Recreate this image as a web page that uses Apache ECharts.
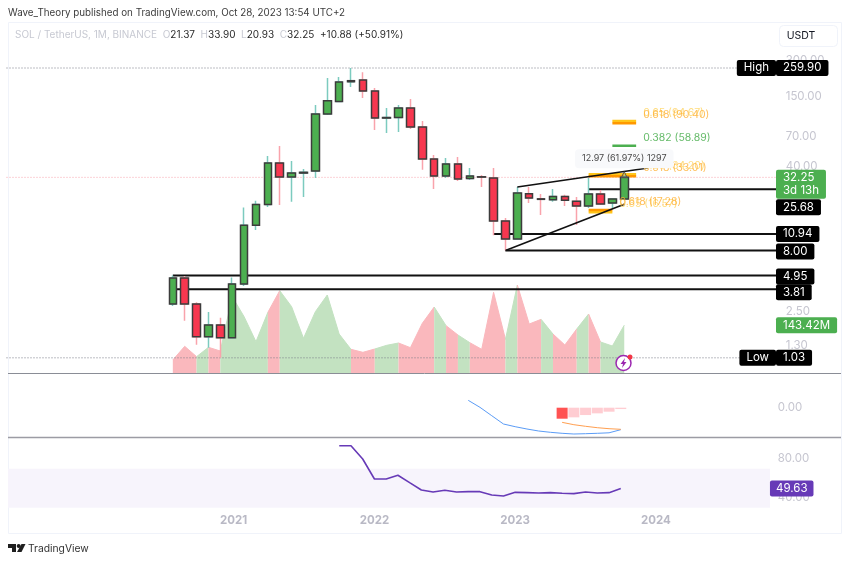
<!DOCTYPE html>
<html lang="en">

<head>
    <meta charset="UTF-8">
    <title>SOL / TetherUS</title>
    <style>
        html, body { margin: 0; padding: 0; background: #fff; }
        #chart { width: 850px; height: 563px; }
    </style>
</head>

<body>
    <div id="chart"></div>
    <script src="https://cdn.jsdelivr.net/npm/echarts@6/dist/echarts.min.js"></script>
    <script>
        // months on the time axis, Jun 2019 - Nov 2024
        const months = []
        for (let y = 2019, m = 6; months.length < 66; m++) {
            if (m > 12) { m = 1; y++ }
            months.push(y + '-' + String(m).padStart(2, '0'))
        }

        // monthly candles, Aug 2020 - Oct 2023
        const candleStart = '2020-08'
        const opens = [2.88, 4.73, 2.88, 1.54, 1.93, 1.51, 4.22, 12.94, 19.18, 42.4, 32.5, 35.0, 36.4, 108, 137, 200, 206.7, 167.6, 100, 101, 121, 84.3, 45.8, 33.1, 41.7, 31.6, 32.6, 31.9, 14.04, 9.96, 23.6, 21.4, 21.0, 22.4, 20.4, 18.7, 23.5, 19.8, 21.37]
        const closes = [4.73, 2.88, 1.54, 1.93, 1.51, 4.22, 12.94, 19.18, 42.4, 32.5, 35.1, 35.5, 108, 139.4, 199, 204, 167.6, 100.1, 101, 121, 84.3, 45.8, 33.1, 41.7, 31.3, 33.1, 32.4, 14.04, 9.96, 23.9, 21.8, 21.2, 22.4, 20.8, 18.7, 23.5, 19.4, 21.37, 32.25]
        const lows = [2.77, 2.09, 1.32, 1.25, 1.03, 1.5, 4.06, 11.83, 18.35, 19.06, 20.2, 22.2, 31.9, 106, 137, 181, 146.6, 79.6, 75.2, 76.7, 81.1, 37.2, 25.8, 31.9, 30.1, 30.7, 26.8, 10.7, 8.0, 9.9, 19.8, 15.75, 20.2, 18.7, 13.0, 18.0, 19.06, 18.0, 20.93]
        const highs = [4.95, 4.91, 2.97, 2.47, 2.21, 4.78, 18.1, 20.6, 48.5, 58.7, 44.1, 37.9, 128.4, 214.8, 219, 259.9, 240, 177.5, 121, 128, 143.8, 94.5, 49.5, 46.7, 47.6, 38.6, 33.8, 38.6, 14.87, 26.8, 26.8, 23.5, 25.8, 23.1, 22.2, 31.9, 25.3, 21.6, 33.9]
        const volumes = [39, 80, 49, 77, 66, 229, 169, 94, 182, 247, 199, 104, 184, 234, 117, 71, 62, 72, 83, 90, 76, 149, 198, 142, 114, 91, 71, 242, 101, 264, 147, 161, 117, 84, 132, 177, 93, 81, 143.42]

        // macd pane
        const macdStart = '2022-09'
        const macdLine = [1.47, 0.07, -1.6, -3.26, -3.8, -4.26, -4.66, -4.92, -5.12, -5.26, -5.2, -5.12, -5.02, -4.4]
        const signalStart = '2023-05'
        const signalLine = [-2.93, -3.4, -3.72, -4.0, -4.2, -4.32]
        const histogram = [-2.2, -1.93, -1.47, -1.13, -0.8, -0.27]

        // rsi pane
        const rsiStart = '2021-10'
        const rsiLine = [93.6, 93.6, 80, 59.5, 59.5, 63.3, 55.7, 48.2, 46.2, 47.9, 46.2, 46.5, 46.5, 43.1, 42, 45.8, 45.5, 45.2, 45.5, 44.9, 44.5, 46.2, 45.2, 45.5, 49.63]
        const rsiBand = [70, 30]

        // drawn levels
        const levelValues = [25.68, 10.94, 8.0, 4.95, 3.81]
        const levelStarts = ['2023-07', '2022-11', '2022-12', '2020-08', '2020-08']
        const wedgeUpper = [['2023-01', 26.8], ['2023-12', 38.6]]
        const wedgeLower = [['2022-12', 8.0], ['2023-10', 19.3]]

        // fibonacci levels
        const fibValues = [94.67, 90.40, 58.89, 34.20, 33.01, 16.57, 17.28]
        const fibLabels = ['0.65 (94.67)', '0.618 (90.40)', '0.382 (58.89)', '0.65 (34.20)', '0.618 (33.01)', '0.65 (16.57)', '0.618 (17.28)']
        const fibStarts = ['2023-09', '2023-09', '2023-09', '2023-07', '2023-07', '2023-07', '2023-07']
        const fibEnds = ['2023-11', '2023-11', '2023-11', '2023-11', '2023-11', '2023-09', '2023-09']

        const priceTicks = [300, 150, 70, 40, 2.5, 1.3]
        const macdTicks = [0]
        const rsiTicks = [80, 40]
        const highValue = 259.9
        const lowValue = 1.03
        const lastPrice = 32.25
        const lastVolume = 143.42
        const lastRsi = 49.63
        const measureValue = 46
        const measureText = '12.97 (61.97%) 1297'

        const FONT = 'Inter, "Noto Sans", sans-serif'
        const UP = '#4caf50'
        const DOWN = '#f7374f'
        const DOTS = [1, 2]
        const lastIndex = months.length - 1
        const idx = m => months.indexOf(m)
        const from = (start, arr) => arr.map((v, i) => [idx(start) + i, v])
        const candleX = i => idx(candleStart) + i

        let series = []

        // volume area, one series per run of same coloured months
        const isUp = i => closes[i] >= opens[i]
        let runStart = 0
        for (let i = 1; i < volumes.length; i++) {
            if (i == volumes.length - 1 || isUp(i + 1) != isUp(i)) {
                const color = isUp(i) ? '#c3e2c1' : '#fab8bd'
                series.push({
                    type: 'line', xAxisIndex: 0, yAxisIndex: 1, z: 1, silent: true,
                    showSymbol: false, symbol: 'none',
                    lineStyle: { width: 1, color: color },
                    areaStyle: { color: color, opacity: 1 },
                    data: volumes.slice(runStart, i + 1).map((v, k) => [candleX(runStart + k), v])
                })
                runStart = i
            }
        }

        // plain line between two points on the price scale
        function priceLine(points, color, width, type, z) {
            return {
                type: 'line', xAxisIndex: 0, yAxisIndex: 0, z: z, silent: true,
                showSymbol: false, symbol: 'none',
                lineStyle: { color: color, width: width, type: type },
                data: points
            }
        }

        series.push(priceLine([[0, highValue], [lastIndex, highValue]], '#787b86', 1, DOTS, 2))
        series.push(priceLine([[0, lowValue], [lastIndex, lowValue]], '#787b86', 1, DOTS, 2))
        series.push(priceLine([[0, lastPrice], [lastIndex, lastPrice]], '#f7a6ae', 1, DOTS, 2))

        levelValues.forEach((v, i) => {
            series.push(priceLine([[idx(levelStarts[i]), v], [lastIndex, v]], '#111', 2, 'solid', 3))
        })

        fibValues.forEach((v, i) => {
            const gold = fibLabels[i].indexOf('0.65') == 0
            const color = fibLabels[i].indexOf('0.382') == 0 ? UP : gold ? '#ffc61a' : '#ff9800'
            series.push(priceLine([[idx(fibStarts[i]), v], [idx(fibEnds[i]), v]], color, 2.5, 'solid', 3))
            series.push({
                type: 'scatter', xAxisIndex: 0, yAxisIndex: 0, z: 6, silent: true,
                symbolSize: 0, itemStyle: { opacity: 1 },
                label: {
                    show: true, position: 'right', distance: 0, offset: [7, -8],
                    formatter: fibLabels[i], fontFamily: FONT, fontSize: 10.5,
                    color: fibLabels[i].indexOf('0.382') == 0 ? '#66bb6a' : gold ? 'rgba(255,205,70,.7)' : 'rgba(255,175,50,.8)'
                },
                data: [[idx(fibEnds[i]), v]]
            })
        })

        // wicks with their own colour, bodies on top of them
        series.push({
            type: 'candlestick', xAxisIndex: 0, yAxisIndex: 0, z: 4, silent: true,
            barWidth: 6,
            itemStyle: { color: 'transparent', color0: 'transparent', borderColor: '#7ccbbf', borderColor0: '#f9a3ac', borderColorDoji: '#7ccbbf', borderWidth: 1.5 },
            encode: { x: 0, y: [1, 2, 3, 4] },
            data: opens.map((o, i) => [candleX(i), o, closes[i], lows[i], highs[i]])
        })
        series.push({
            type: 'candlestick', xAxisIndex: 0, yAxisIndex: 0, z: 5, silent: true,
            barWidth: 8,
            itemStyle: { color: UP, color0: DOWN, borderColor: '#3c3c3c', borderColor0: '#3c3c3c', borderColorDoji: '#3c3c3c', borderWidth: 1.5 },
            encode: { x: 0, y: [1, 2, 3, 4] },
            data: opens.map((o, i) => [candleX(i), o, closes[i], Math.min(o, closes[i]), Math.max(o, closes[i])])
        })

        series.push(priceLine(wedgeUpper.map(p => [idx(p[0]), p[1]]), '#111', 1.6, 'solid', 6))
        series.push(priceLine(wedgeLower.map(p => [idx(p[0]), p[1]]), '#111', 1.6, 'solid', 6))

        // small marker on top of the last candle and the measure box
        series.push({
            type: 'scatter', xAxisIndex: 0, yAxisIndex: 0, z: 6, silent: true,
            symbol: 'triangle', symbolSize: 6,
            itemStyle: { opacity: 1, color: 'rgba(0,0,0,0)', borderColor: '#555', borderWidth: 1 },
            data: [[idx('2023-10'), highs[highs.length - 1]]]
        })
        series.push({
            type: 'scatter', xAxisIndex: 0, yAxisIndex: 0, z: 7, silent: true,
            symbolSize: 0, itemStyle: { opacity: 1 },
            label: {
                show: true, position: 'inside', formatter: measureText, fontFamily: FONT, fontSize: 9, color: '#4a4a4a',
                backgroundColor: '#f8f9fb', borderRadius: 4, padding: [5, 7]
            },
            data: [[idx('2023-10'), measureValue]]
        })

        // price scale tags
        function tag(value, text, color, side, dy, yAxis) {
            return {
                type: 'scatter', xAxisIndex: 0, yAxisIndex: yAxis || 0, z: 8, silent: true,
                symbolSize: 0, clip: false, itemStyle: { opacity: 1 },
                label: {
                    show: true, position: side, distance: 0, offset: [-2.7, dy],
                    formatter: text, fontFamily: FONT, fontSize: 11.5, lineHeight: 13, color: '#fff',
                    backgroundColor: color, borderRadius: 2, padding: [2, 7, 1, 7]
                },
                data: [[lastIndex, value]]
            }
        }
        series.push(tag(highValue, highValue.toFixed(2), '#000', 'right', 0))
        series.push(tag(highValue, 'High', '#000', 'left', 0))
        series.push(tag(levelValues[0], levelValues[0].toFixed(2), '#000', 'right', 18))
        series.push(tag(lastPrice, lastPrice.toFixed(2) + '\n3d 13h', UP, 'right', 7))
        series.push(tag(levelValues[1], levelValues[1].toFixed(2), '#000', 'right', 0))
        series.push(tag(levelValues[2], levelValues[2].toFixed(2), '#000', 'right', 1))
        series.push(tag(levelValues[3], levelValues[3].toFixed(2), '#000', 'right', 1))
        series.push(tag(levelValues[4], levelValues[4].toFixed(2), '#000', 'right', 3))
        series.push(tag(lowValue, lowValue.toFixed(2), '#000', 'right', 0))
        series.push(tag(lowValue, 'Low', '#000', 'left', 0))
        series.push(tag(lastVolume, lastVolume.toFixed(2) + 'M', UP, 'right', 0, 1))

        // macd pane
        series.push({
            type: 'bar', xAxisIndex: 1, yAxisIndex: 2, barWidth: 11, silent: true,
            data: histogram.map((v, i) => ({
                value: [idx(signalStart) + i, v],
                itemStyle: { color: i == 0 ? '#ff5252' : '#ffcdd2' }
            }))
        })
        series.push({
            type: 'line', xAxisIndex: 1, yAxisIndex: 2, symbol: 'none', silent: true,
            lineStyle: { color: '#5b9cf6', width: 1 }, data: from(macdStart, macdLine)
        })
        series.push({
            type: 'line', xAxisIndex: 1, yAxisIndex: 2, symbol: 'none', silent: true,
            lineStyle: { color: '#ff9f50', width: 1 }, data: from(signalStart, signalLine)
        })

        // rsi pane
        series.push({
            type: 'custom', xAxisIndex: 2, yAxisIndex: 3, z: 1, silent: true,
            encode: { x: 0, y: [1, 2] },
            renderItem: function (params, api) {
                const top = api.coord([0, api.value(1)])[1]
                const bottom = api.coord([0, api.value(2)])[1]
                return { type: 'rect', shape: { x: 8, y: top, width: 762, height: bottom - top }, style: { fill: '#f7f4fc' } }
            },
            data: [[0, rsiBand[0], rsiBand[1]]]
        })
        series.push({
            type: 'line', xAxisIndex: 2, yAxisIndex: 3, symbol: 'none', silent: true, z: 3,
            lineStyle: { color: '#673ab7', width: 1.6 }, data: from(rsiStart, rsiLine)
        })
        series.push({
            type: 'scatter', xAxisIndex: 2, yAxisIndex: 3, z: 8, silent: true,
            symbolSize: 0, clip: false, itemStyle: { opacity: 1 },
            label: {
                show: true, position: 'right', distance: 0, offset: [-3.3, 0],
                formatter: lastRsi.toFixed(2), fontFamily: FONT, fontSize: 11.5, lineHeight: 13, color: '#fff',
                backgroundColor: '#673ab7', borderRadius: 2, padding: [2, 6, 1, 6]
            },
            data: [[lastIndex, lastRsi]]
        })

        function timeAxis(gridIndex, showLabels) {
            return {
                type: 'category', gridIndex: gridIndex, data: months, boundaryGap: false,
                axisLine: { show: false }, axisTick: { show: false }, splitLine: { show: false },
                axisLabel: {
                    show: showLabels, margin: 7, color: '#b9b9c5', fontFamily: FONT, fontSize: 11.5, fontWeight: 'bold',
                    interval: (i, v) => v.slice(5) == '01' && v.slice(0, 4) >= '2021',
                    formatter: v => v.slice(0, 4)
                }
            }
        }

        function valueAxis(gridIndex, min, max, ticks, margin, type) {
            return {
                type: type || 'value', gridIndex: gridIndex, position: 'right', min: min, max: max,
                axisLine: { show: false }, axisTick: { show: false }, splitLine: { show: false },
                axisLabel: {
                    show: true, customValues: ticks, margin: margin, align: 'left',
                    color: '#c6c6d0', fontFamily: FONT, fontSize: 11.5,
                    formatter: v => Number(v).toFixed(2)
                }
            }
        }

        const oLast = opens[opens.length - 1]
        const cLast = closes[closes.length - 1]
        const hLast = highs[highs.length - 1]
        const lLast = lows[lows.length - 1]
        const change = (cLast - oLast).toFixed(2)
        const changePct = ((cLast - oLast) / oLast * 100).toFixed(2)

        const option = {
            animation: false,
            backgroundColor: '#fff',
            grid: [
                { left: 6.5, width: 772.2, top: 22, height: 351 },
                { left: 10.81, width: 762.45, top: 374, height: 63 },
                { left: 10.81, width: 762.45, top: 438, height: 70 }
            ],
            xAxis: [timeAxis(0, false), timeAxis(1, false), timeAxis(2, true)],
            yAxis: [
                valueAxis(0, 0.771, 625.3, priceTicks, 7, 'log'),
                { type: 'value', gridIndex: 0, show: false, min: 0, max: 1053 },
                valueAxis(1, -5.86, 6.74, macdTicks, 4.5),
                valueAxis(2, 29.74, 101.54, rsiTicks, 4.5)
            ],
            series: series,
            graphic: [
                { type: 'rect', shape: { x: 8.5, y: 22.5, width: 833, height: 511 }, style: { fill: 'none', stroke: '#f0f3fa', lineWidth: 1 }, z: 0, silent: true },
                { type: 'line', shape: { x1: 8, y1: 373.5, x2: 841, y2: 373.5 }, style: { stroke: '#8a8d96', lineWidth: 1 }, z: 9 },
                { type: 'line', shape: { x1: 8, y1: 437.5, x2: 841, y2: 437.5 }, style: { stroke: '#9c9ca4', lineWidth: 1.5 }, z: 9 },
                {
                    type: 'text', x: 8, y: 8, z: 9,
                    style: { text: 'Wave_Theory published on TradingView.com, Oct 28, 2023 13:54 UTC+2', fontFamily: FONT, fontSize: 9.8, fill: '#3c3c3c' }
                },
                {
                    type: 'text', x: 15, y: 30, z: 9,
                    style: {
                        text: `{g|SOL / TetherUS, 1M, BINANCE  O}{d|${oLast}}  {g|H}{d|${hLast.toFixed(2)}}  {g|L}{d|${lLast}}  {g|C}{d|${cLast}}  {d|+${change} (+${changePct}%)}`,
                        fontFamily: FONT, fontSize: 10,
                        rich: {
                            g: { fill: '#c7c9d2', fontFamily: FONT, fontSize: 10 },
                            d: { fill: '#2a2a2a', fontFamily: FONT, fontSize: 10 }
                        }
                    }
                },
                { type: 'rect', shape: { x: 779.5, y: 25.5, width: 58, height: 21, r: 4 }, style: { fill: '#fff', stroke: '#f0f3fa', lineWidth: 1 }, z: 9 },
                { type: 'text', x: 801, y: 36, z: 10, style: { text: 'USDT', align: 'center', verticalAlign: 'middle', fontFamily: FONT, fontSize: 10.5, fill: '#131722' } },
                // event icon
                { type: 'circle', shape: { cx: 623.5, cy: 363, r: 7.5 }, style: { fill: '#fff', stroke: '#9c27b0', lineWidth: 1.5 }, z: 9 },
                { type: 'polygon', shape: { points: [[625, 358], [620.5, 364], [623, 364], [622, 368], [626.5, 362], [624, 362]] }, style: { fill: '#9c27b0' }, z: 10 },
                { type: 'circle', shape: { cx: 630, cy: 357, r: 2.5 }, style: { fill: '#f23645' }, z: 10 },
                // logo
                { type: 'polygon', shape: { points: [[8, 544], [16, 544], [16, 552], [12, 552], [12, 548], [8, 548]] }, style: { fill: '#1f1f1f' }, z: 9 },
                { type: 'circle', shape: { cx: 18.7, cy: 546, r: 2 }, style: { fill: '#1f1f1f' }, z: 9 },
                { type: 'polygon', shape: { points: [[21.5, 544], [25.5, 544], [21.5, 552], [17, 552]] }, style: { fill: '#1f1f1f' }, z: 9 },
                { type: 'text', x: 28, y: 544, z: 9, style: { text: 'TradingView', fontFamily: FONT, fontSize: 10.3, fill: '#333' } }
            ]
        }

        let myChart = echarts.init(document.getElementById('chart'), null, { renderer: 'canvas' })
        myChart.setOption(option)
    </script>
</body>

</html>
